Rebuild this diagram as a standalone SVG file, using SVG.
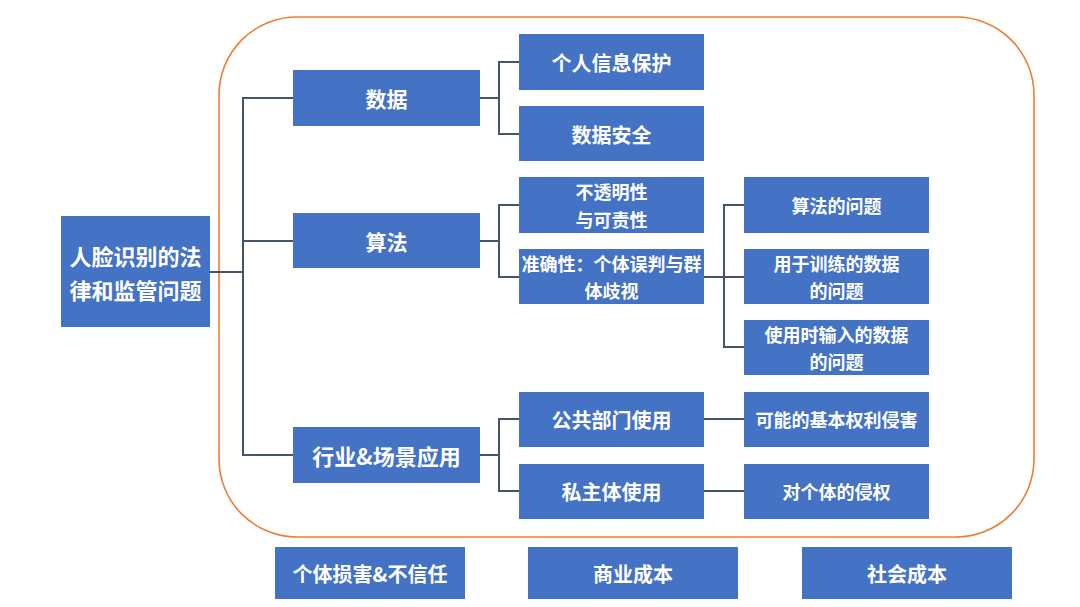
<svg xmlns="http://www.w3.org/2000/svg" width="1080" height="607" viewBox="0 0 1080 607">
<style>
.b{fill:#4472C4;}
.t{fill:#fff;font-family:"Noto Sans CJK SC","Noto Sans",sans-serif;font-weight:bold;text-anchor:middle;dominant-baseline:central;}
.c{fill:none;stroke:#44546A;stroke-width:2;}
</style>
<rect x="0" y="0" width="1080" height="607" fill="#fff"/>
<rect x="219" y="17" width="815" height="520" rx="78" ry="78" fill="none" stroke="#ED7D31" stroke-width="1.6"/>
<g id="connectors">
<path class="c" d="M210 272H243M293 98H243V455H293M243 241H293"/>
<path class="c" d="M480 98H499M519 62H499V134H519"/>
<path class="c" d="M480 241H499M519 205H499V277H519"/>
<path class="c" d="M704 277H724M744 205H724V347H744M724 277H744"/>
<path class="c" d="M480 455H499M519 419H499V491H519"/>
<path class="c" d="M704 419H744M704 491H744"/>
</g>
<g id="root"><rect class="b" x="61" y="216" width="149" height="111"/><text class="t" x="135.5" y="255" font-size="22">人脸识别的法</text><text class="t" x="135.5" y="289" font-size="22">律和监管问题</text></g>
<g id="shuju"><rect class="b" x="293" y="70" width="187" height="56"/><text class="t" x="386.5" y="98" font-size="21">数据</text></g>
<g id="suanfa"><rect class="b" x="293" y="213" width="187" height="55"/><text class="t" x="386.5" y="241" font-size="21">算法</text></g>
<g id="hangye"><rect class="b" x="293" y="427" width="187" height="56"/><text class="t" x="386.5" y="455" font-size="22">行业&amp;场景应用</text></g>
<g id="geren"><rect class="b" x="519" y="34" width="185" height="56"/><text class="t" x="611.5" y="62" font-size="20">个人信息保护</text></g>
<g id="anquan"><rect class="b" x="519" y="106" width="185" height="55"/><text class="t" x="611.5" y="134" font-size="20">数据安全</text></g>
<g id="toumingxing"><rect class="b" x="519" y="177" width="185" height="56"/><text class="t" x="611.5" y="191" font-size="18">不透明性</text><text class="t" x="611.5" y="219" font-size="18">与可责性</text></g>
<g id="zhunque"><rect class="b" x="519" y="249" width="185" height="55"/><text class="t" x="611.5" y="263" font-size="18">准确性：个体误判与群</text><text class="t" x="611.5" y="290" font-size="18">体歧视</text></g>
<g id="suanfawenti"><rect class="b" x="744" y="177" width="185" height="56"/><text class="t" x="836.5" y="205" font-size="18">算法的问题</text></g>
<g id="xunlian"><rect class="b" x="744" y="249" width="185" height="55"/><text class="t" x="836.5" y="263" font-size="18">用于训练的数据</text><text class="t" x="836.5" y="290" font-size="18">的问题</text></g>
<g id="shuru"><rect class="b" x="744" y="320" width="185" height="55"/><text class="t" x="836.5" y="334" font-size="18">使用时输入的数据</text><text class="t" x="836.5" y="361" font-size="18">的问题</text></g>
<g id="gonggong"><rect class="b" x="519" y="392" width="185" height="55"/><text class="t" x="611.5" y="419" font-size="20">公共部门使用</text></g>
<g id="sizhuti"><rect class="b" x="519" y="464" width="185" height="55"/><text class="t" x="611.5" y="491" font-size="20">私主体使用</text></g>
<g id="quanli"><rect class="b" x="744" y="392" width="185" height="55"/><text class="t" x="836.5" y="419" font-size="18">可能的基本权利侵害</text></g>
<g id="qinquan"><rect class="b" x="744" y="464" width="185" height="55"/><text class="t" x="836.5" y="491" font-size="18">对个体的侵权</text></g>
<g id="sunhai"><rect class="b" x="275" y="547" width="190" height="52"/><text class="t" x="370" y="573" font-size="20">个体损害&amp;不信任</text></g>
<g id="shangye"><rect class="b" x="528" y="547" width="210" height="52"/><text class="t" x="633" y="573" font-size="20">商业成本</text></g>
<g id="shehui"><rect class="b" x="802" y="547" width="210" height="52"/><text class="t" x="907" y="573" font-size="20">社会成本</text></g>
</svg>
